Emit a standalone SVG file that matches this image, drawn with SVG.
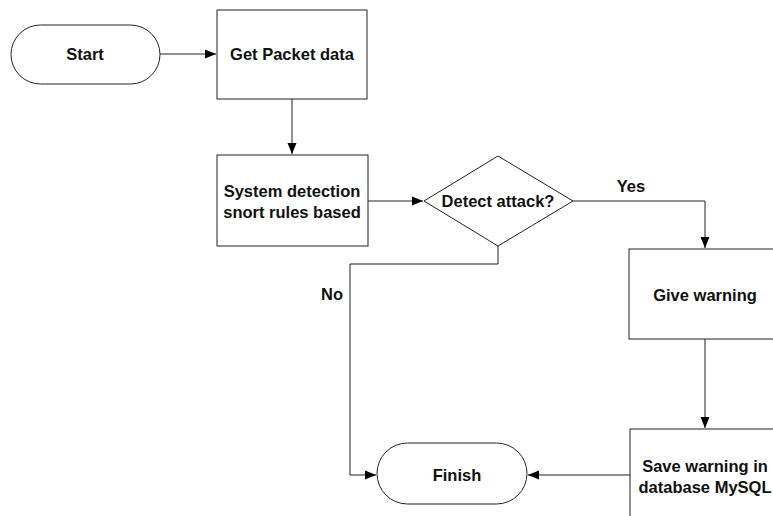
<svg xmlns="http://www.w3.org/2000/svg" width="773" height="516" viewBox="0 0 773 516">
<defs>
<style>
.shape{fill:#fff;stroke:#222;stroke-width:1}
.line{fill:none;stroke:#222;stroke-width:1}
text{font-family:"Liberation Sans",Arial,sans-serif;font-weight:bold;font-size:16.5px;fill:#111;text-anchor:middle;dominant-baseline:central}
</style>
<marker id="arr" markerWidth="12" markerHeight="10" refX="11" refY="5" orient="auto" markerUnits="userSpaceOnUse">
<path d="M0,0.5 L11,5 L0,9.5 Z" fill="#000"/>
</marker>
</defs>
<rect width="773" height="516" fill="#fff"/>
<g id="connectors">
<path class="line" d="M160,54 L216,54" marker-end="url(#arr)"/>
<path class="line" d="M292,99 L292,154" marker-end="url(#arr)"/>
<path class="line" d="M368,201 L423,201" marker-end="url(#arr)"/>
<path class="line" d="M573,201 L705,201 L705,248" marker-end="url(#arr)"/>
<path class="line" d="M705,339 L705,428" marker-end="url(#arr)"/>
<path class="line" d="M630,475 L528,475" marker-end="url(#arr)"/>
<path class="line" d="M498,246 L498,264 L350,264 L350,475 L376,475" marker-end="url(#arr)"/>
<text x="631" y="186">Yes</text>
<text x="332" y="294">No</text>
</g>
<g id="start">
<rect class="shape" x="11" y="25" width="149" height="59" rx="29.5" ry="29.5"/>
<text x="85" y="54">Start</text>
</g>
<g id="get-packet">
<rect class="shape" x="217" y="10" width="150" height="89"/>
<text x="292" y="54">Get Packet data</text>
</g>
<g id="system-detection">
<rect class="shape" x="217" y="155" width="151" height="91"/>
<text x="292" y="191">System detection</text>
<text x="292" y="212">snort rules based</text>
</g>
<g id="detect-attack">
<polygon class="shape" points="424,201 498,156 573,201 498,246"/>
<text x="498" y="201">Detect attack?</text>
</g>
<g id="give-warning">
<rect class="shape" x="629" y="249" width="160" height="90"/>
<text x="705" y="295">Give warning</text>
</g>
<g id="save-warning">
<rect class="shape" x="630" y="429" width="160" height="100"/>
<text x="705" y="466">Save warning in</text>
<text x="705" y="487">database MySQL</text>
</g>
<g id="finish">
<rect class="shape" x="377" y="443" width="150" height="61" rx="30.5" ry="30.5"/>
<text x="457" y="475">Finish</text>
</g>
</svg>
